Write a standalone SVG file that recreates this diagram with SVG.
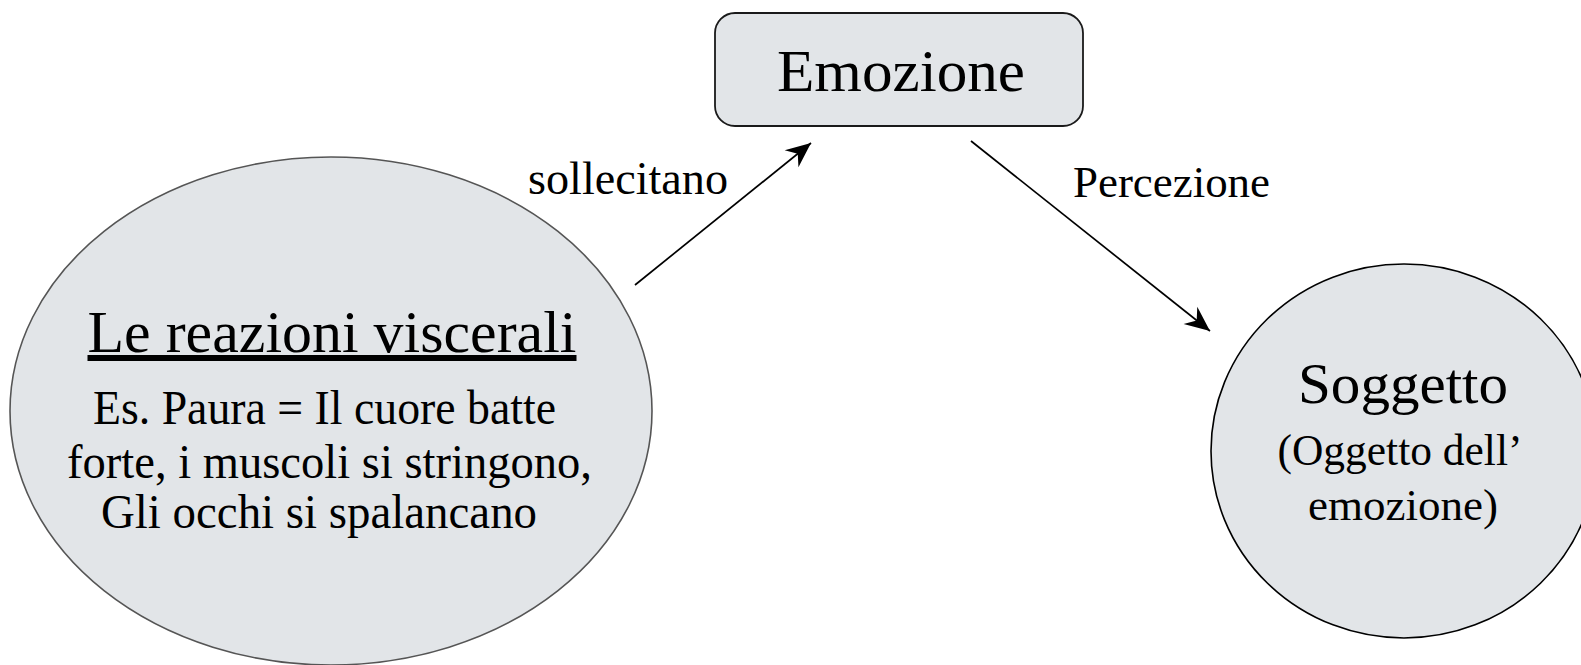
<svg xmlns="http://www.w3.org/2000/svg" width="1581" height="665" viewBox="0 0 1581 665">
<style>
.t{font-family:"Liberation Serif","Times New Roman",serif;fill:#000;text-anchor:middle}
.node{fill:#e2e5e8}
.conn{stroke:#000;stroke-width:1.7;fill:none}
</style>
<defs>
<marker id="arr" viewBox="-26 -12 28 24" refX="0" refY="0" markerWidth="28" markerHeight="24" markerUnits="userSpaceOnUse" orient="auto">
<path d="M0,0 L-25,-11 L-17,0 L-25,11 Z" fill="#000"/>
</marker>
</defs>
<rect width="1581" height="665" fill="#fff"/>
<g id="node-reazioni">
<ellipse class="node" cx="331" cy="411" rx="321" ry="254" stroke="#555" stroke-width="1.6"/>
<text class="t" x="332" y="352" font-size="60" text-decoration="underline" textLength="489" lengthAdjust="spacingAndGlyphs">Le reazioni viscerali</text>
<text class="t" x="324.5" y="424" font-size="48" textLength="463" lengthAdjust="spacingAndGlyphs">Es. Paura = Il cuore batte</text>
<text class="t" x="329.5" y="478" font-size="48" textLength="525" lengthAdjust="spacingAndGlyphs">forte, i muscoli si stringono,</text>
<text class="t" x="319" y="528" font-size="48" textLength="436" lengthAdjust="spacingAndGlyphs">Gli occhi si spalancano</text>
</g>
<g id="node-emozione">
<rect class="node" x="715" y="13" width="368" height="113" rx="20" ry="20" stroke="#1a1a1a" stroke-width="1.8"/>
<text class="t" x="901" y="91" font-size="60" textLength="248" lengthAdjust="spacingAndGlyphs">Emozione</text>
</g>
<g id="node-soggetto">
<ellipse class="node" cx="1404" cy="451" rx="193" ry="187" stroke="#000" stroke-width="1.6"/>
<text class="t" x="1403" y="403" font-size="58" textLength="210" lengthAdjust="spacingAndGlyphs">Soggetto</text>
<text class="t" x="1400" y="465" font-size="44" textLength="245" lengthAdjust="spacingAndGlyphs">(Oggetto dell’</text>
<text class="t" x="1403" y="520" font-size="44" textLength="190" lengthAdjust="spacingAndGlyphs">emozione)</text>
</g>
<g id="connectors">
<line class="conn" x1="635" y1="285" x2="811" y2="143" marker-end="url(#arr)"/>
<text class="t" x="628" y="194" font-size="46" textLength="200" lengthAdjust="spacingAndGlyphs">sollecitano</text>
<line class="conn" x1="971" y1="141" x2="1210" y2="331" marker-end="url(#arr)"/>
<text class="t" x="1171.5" y="197" font-size="45" textLength="197" lengthAdjust="spacingAndGlyphs">Percezione</text>
</g>
</svg>
